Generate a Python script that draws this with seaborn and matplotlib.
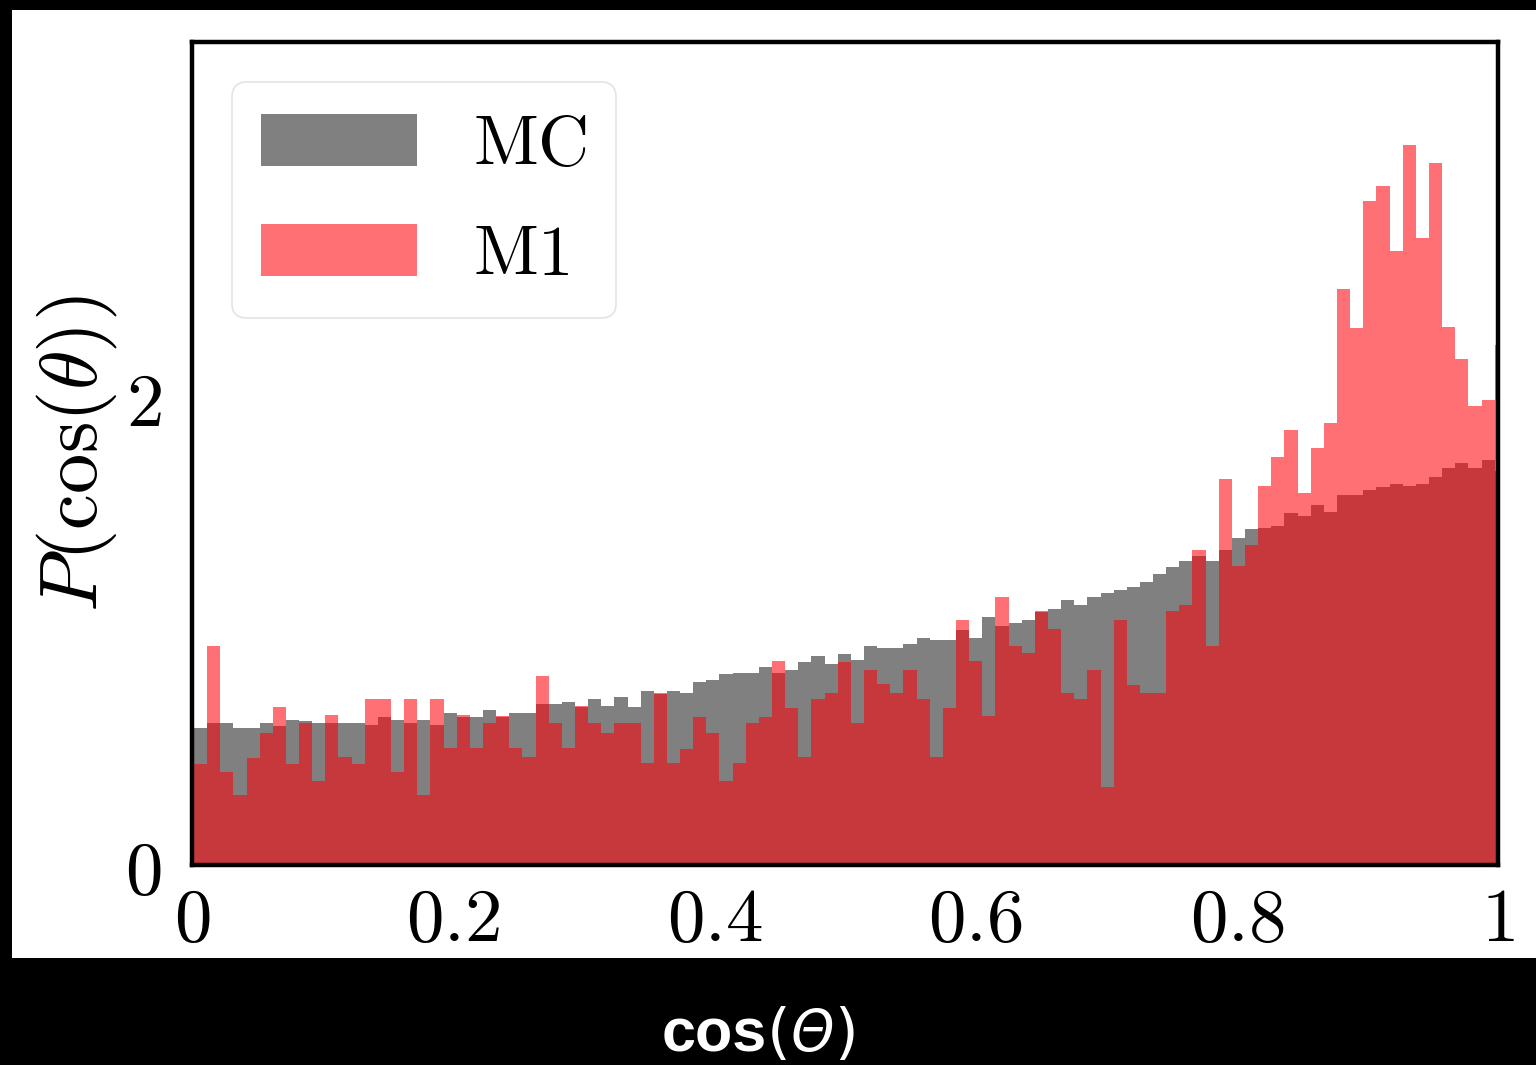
import numpy as np
import pandas as pd
import matplotlib
matplotlib.use("Agg")
import matplotlib.pyplot as plt
from matplotlib.patches import Patch, Rectangle
import seaborn as sns

# ---------------- data (per-bin density, 100 equal bins) ----------------
n_bins = 100
x_range = (0.0015, 1.0075)

mc_density = [
    0.587, 0.608, 0.608, 0.587, 0.587, 0.608, 0.595, 0.620, 0.617, 0.608,
    0.608, 0.608, 0.608, 0.598, 0.631, 0.620, 0.608, 0.620, 0.598, 0.648,
    0.634, 0.634, 0.662, 0.634, 0.648, 0.648, 0.688, 0.688, 0.698, 0.677,
    0.709, 0.679, 0.719, 0.677, 0.744, 0.733, 0.744, 0.734, 0.783, 0.793,
    0.815, 0.822, 0.822, 0.848, 0.822, 0.836, 0.869, 0.893, 0.859, 0.902,
    0.876, 0.936, 0.926, 0.926, 0.947, 0.971, 0.962, 0.962, 1.007, 0.971,
    1.061, 1.021, 1.036, 1.050, 1.082, 1.097, 1.132, 1.111, 1.147, 1.164,
    1.178, 1.189, 1.211, 1.246, 1.275, 1.299, 1.320, 1.299, 1.349, 1.400,
    1.435, 1.440, 1.448, 1.505, 1.494, 1.538, 1.508, 1.583, 1.583, 1.603,
    1.618, 1.630, 1.622, 1.630, 1.658, 1.699, 1.719, 1.699, 1.733, 1.687,
]

m1_density = [
    0.434, 0.936, 0.396, 0.299, 0.459, 0.563, 0.674, 0.434, 0.608, 0.359,
    0.641, 0.463, 0.434, 0.709, 0.709, 0.396, 0.709, 0.299, 0.709, 0.499,
    0.641, 0.499, 0.608, 0.636, 0.499, 0.463, 0.809, 0.608, 0.499, 0.680,
    0.608, 0.563, 0.608, 0.608, 0.437, 0.736, 0.437, 0.494, 0.634, 0.563,
    0.360, 0.437, 0.608, 0.634, 0.873, 0.672, 0.460, 0.708, 0.734, 0.869,
    0.608, 0.836, 0.774, 0.736, 0.836, 0.709, 0.463, 0.672, 1.050, 0.872,
    0.638, 1.147, 0.936, 0.905, 1.087, 1.011, 0.734, 0.712, 0.836, 0.335,
    1.047, 0.772, 0.736, 0.736, 1.085, 1.114, 1.346, 0.937, 1.650, 1.279,
    1.368, 1.621, 1.746, 1.859, 1.590, 1.784, 1.892, 2.462, 2.298, 2.838,
    2.903, 2.627, 3.079, 2.680, 3.003, 2.303, 2.163, 1.963, 1.987, 2.225,
]

series_labels = [r"$\mathrm{MC}$", r"$\mathrm{M1}$"]
xtick_values = [0, 0.2, 0.4, 0.6, 0.8, 1.0]
xtick_labels = [r"$0$", r"$0.2$", r"$0.4$", r"$0.6$", r"$0.8$", r"$1$"]
ytick_values = [0, 2]
ytick_labels = [r"$0$", r"$2$"]
xlabel_parts = ["cos", "(", "Θ", ")"]

edges = np.linspace(x_range[0], x_range[1], n_bins + 1)
centers = 0.5 * (edges[:-1] + edges[1:])
df = pd.DataFrame({"x": centers, "MC": mc_density, "M1": m1_density})

# ---------------- style ----------------
sns.set_style("white")
plt.rcParams["mathtext.fontset"] = "cm"
plt.rcParams["font.family"] = ["DejaVu Sans"]
plt.rcParams["text.color"] = "black"
plt.rcParams["axes.labelcolor"] = "black"

MC_COLOR = "#808080"
M1_COLOR = (1.0, 0.0, 0.03)
M1_ALPHA = 0.56

fig = plt.figure(figsize=(15.36, 10.65), dpi=100, facecolor="black")
# white panel (the original figure area)
fig.patches.append(Rectangle((12 / 1536, 1 - 958 / 1065), 1 - 12 / 1536, (958 - 10) / 1065,
                             transform=fig.transFigure, facecolor="white", edgecolor="none",
                             zorder=-10))

ax = fig.add_axes([192 / 1536, 1 - 865 / 1065, (1498 - 192) / 1536, (865 - 42) / 1065])
ax.set_zorder(1)
ax.set_facecolor("white")

sns.histplot(data=df, x="x", weights="MC", bins=n_bins, binrange=x_range, stat="count",
             color=MC_COLOR, alpha=1.0, linewidth=0, ax=ax)
sns.histplot(data=df, x="x", weights="M1", bins=n_bins, binrange=x_range, stat="count",
             color=M1_COLOR, alpha=M1_ALPHA, linewidth=0, ax=ax)

ax.set_xlim(0, 1)
ax.set_ylim(0, 3.52)

ax.set_xticks(xtick_values)
ax.set_xticklabels(xtick_labels)
ax.set_xticks([0.1, 0.3, 0.5, 0.7, 0.9], minor=True)
ax.set_yticks(ytick_values)
ax.set_yticklabels(ytick_labels)
ax.set_yticks([1, 3], minor=True)

ax.tick_params(axis="both", which="major", direction="in", length=16, width=2.8,
               labelsize=54, colors="black", pad=14)
ax.tick_params(axis="both", which="minor", direction="in", length=9, width=2.5)
ax.tick_params(axis="y", which="major", pad=22)

for sp in ax.spines.values():
    sp.set_visible(True)
    sp.set_linewidth(3.2)
    sp.set_color("black")

ax.set_xlabel("")
ax.set_ylabel(r"$P(\cos(\theta))$", fontsize=58, labelpad=4, color="black")

handles = [Patch(facecolor=MC_COLOR, edgecolor="none"),
           Patch(facecolor=M1_COLOR, alpha=M1_ALPHA, edgecolor="none")]
leg = ax.legend(handles, series_labels, loc="upper left", fontsize=51,
                handlelength=2.2, handleheight=0.74, handletextpad=0.8,
                borderaxespad=0.57, labelspacing=0.58, borderpad=0.4,
                frameon=True, fancybox=True)
leg.get_frame().set_edgecolor("#dddddd")
leg.get_frame().set_linewidth(1.2)
for t in leg.get_texts():
    t.set_color("black")

# x label below the panel: "cos" bold, "(Θ)" light with italic Θ
styles = [dict(fontweight="bold", family="Liberation Sans", fontsize=44),
          dict(fontweight="normal", family="DejaVu Sans", fontsize=44),
          dict(fontweight="normal", family="DejaVu Sans", fontsize=40, fontstyle="italic"),
          dict(fontweight="normal", family="DejaVu Sans", fontsize=44)]
fig.canvas.draw()
renderer = fig.canvas.get_renderer()
texts = []
for part, st in zip(xlabel_parts, styles):
    t = fig.text(0, 1 - 1036 / 1065, part, color="white", va="center", ha="left", **st)
    texts.append(t)
widths = [t.get_window_extent(renderer).width for t in texts]
total = sum(widths)
x_px = 760 - total / 2
for t, w in zip(texts, widths):
    t.set_x(x_px / 1536)
    x_px += w

fig.savefig("out.png", dpi=100, facecolor="black")
